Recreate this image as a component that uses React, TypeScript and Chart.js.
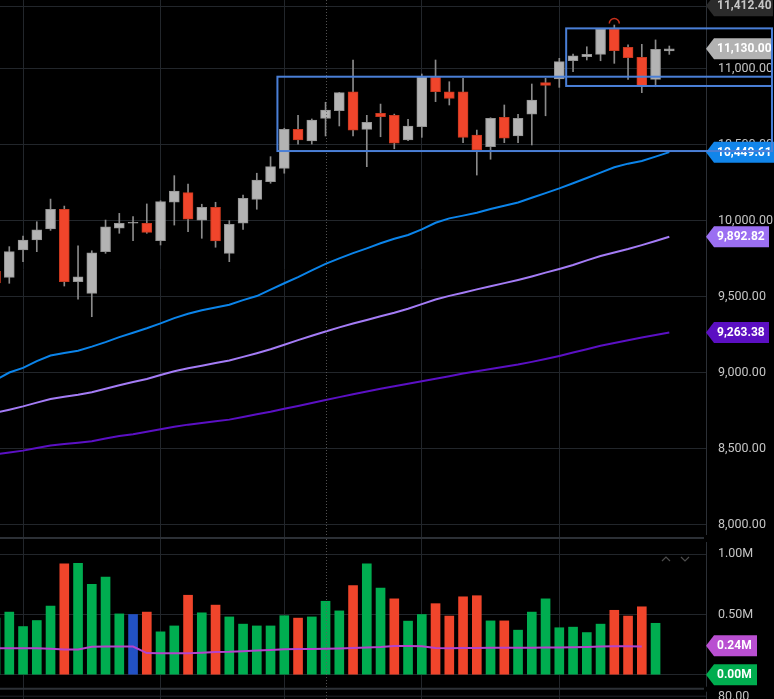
import React, { useEffect, useRef } from 'react';
import { Chart, registerables } from 'chart.js';

Chart.register(...registerables);

// ---------------- data ----------------
// trading-day positions (-1 is the partially visible bar at the left edge)
const dayIndex: number[] = Array.from({ length: 50 }, (_, k) => k - 1);

const opens = [9665, 9626, 9806, 9872, 9944, 10074, 9597, 9521, 9795, 9949, 9982, 9982, 9867, 10120, 10183, 10003, 10087, 9784, 9982, 10139, 10255, 10343, 10600, 10523, 10672, 10722, 10847, 10600, 10705, 10692, 10530, 10617, 10946, 10847, 10847, 10562, 10486, 10679, 10556, 10699, 10907, 10931, 11051, 11078, 11093, 11260, 11140, 11074, 10929, 11115];
const highs = [9690, 9828, 9898, 9992, 10141, 10095, 9834, 9801, 10003, 10047, 10025, 10109, 10130, 10295, 10240, 10107, 10120, 9999, 10168, 10311, 10420, 10607, 10692, 10668, 10778, 10843, 11056, 10692, 10766, 10700, 10666, 10964, 11056, 10913, 10936, 10595, 10676, 10760, 10699, 10898, 10936, 11067, 11095, 11143, 11264, 11286, 11155, 11159, 11188, 11148];
const lows = [9570, 9587, 9729, 9795, 9935, 9569, 9482, 9367, 9784, 9916, 9867, 9916, 9839, 9970, 9926, 9883, 9824, 9729, 9942, 10074, 10245, 10311, 10503, 10503, 10556, 10622, 10556, 10354, 10551, 10472, 10525, 10547, 10782, 10760, 10512, 10299, 10403, 10512, 10512, 10497, 10689, 10876, 10979, 11056, 11051, 11034, 10929, 10841, 10880, 11093];
const closes = [9590, 9795, 9872, 9938, 10074, 9597, 9630, 9788, 9959, 9982, 9982, 9922, 10124, 10194, 10008, 10087, 9865, 9975, 10146, 10266, 10354, 10600, 10530, 10661, 10727, 10841, 10595, 10646, 10683, 10508, 10622, 10946, 10847, 10804, 10547, 10464, 10672, 10541, 10672, 10793, 10889, 11045, 11084, 11093, 11260, 11117, 11071, 10880, 11126, 11130];

// volume in millions
const volumesM: (number | null)[] = [0.47, 0.52, 0.40, 0.45, 0.57, 0.92, 0.925, 0.75, 0.81, 0.505, 0.50, 0.52, 0.356, 0.405, 0.66, 0.514, 0.578, 0.48, 0.42, 0.405, 0.405, 0.49, 0.47, 0.48, 0.61, 0.53, 0.74, 0.92, 0.72, 0.63, 0.445, 0.50, 0.59, 0.487, 0.647, 0.656, 0.447, 0.447, 0.37, 0.52, 0.63, 0.39, 0.395, 0.35, 0.42, 0.535, 0.487, 0.564, 0.427, null];
const volumeAvgM: (number | null)[] = [0.22, 0.22, 0.22, 0.22, 0.215, 0.21, 0.21, 0.232, 0.234, 0.234, 0.234, 0.18, 0.178, 0.178, 0.178, 0.183, 0.188, 0.19, 0.195, 0.2, 0.205, 0.212, 0.214, 0.214, 0.215, 0.218, 0.222, 0.225, 0.23, 0.238, 0.238, 0.236, 0.222, 0.22, 0.222, 0.222, 0.223, 0.223, 0.223, 0.224, 0.225, 0.226, 0.228, 0.23, 0.234, 0.236, 0.236, 0.234, null, null];

// moving averages
const maFast = [8950, 9000, 9030, 9075, 9112, 9128, 9143, 9170, 9200, 9233, 9262, 9291, 9323, 9358, 9387, 9410, 9428, 9446, 9476, 9503, 9545, 9587, 9628, 9672, 9715, 9751, 9785, 9817, 9850, 9880, 9905, 9942, 9985, 10014, 10032, 10051, 10076, 10097, 10118, 10150, 10180, 10211, 10245, 10280, 10315, 10350, 10374, 10392, 10420, 10449.61];
const maMid = [8735, 8755, 8777, 8802, 8826, 8840, 8853, 8870, 8893, 8916, 8937, 8957, 8983, 9008, 9028, 9044, 9062, 9079, 9103, 9127, 9153, 9183, 9213, 9242, 9270, 9297, 9322, 9346, 9370, 9393, 9419, 9450, 9480, 9504, 9525, 9547, 9567, 9588, 9609, 9632, 9657, 9681, 9707, 9738, 9766, 9790, 9812, 9838, 9865, 9892.82];
const maSlow = [8462, 8474, 8486, 8503, 8520, 8530, 8538, 8548, 8566, 8582, 8594, 8610, 8627, 8643, 8657, 8668, 8679, 8690, 8707, 8725, 8742, 8762, 8780, 8800, 8819, 8838, 8857, 8875, 8893, 8910, 8926, 8942, 8959, 8976, 8993, 9008, 9023, 9038, 9052, 9070, 9089, 9109, 9131, 9153, 9176, 9194, 9212, 9230, 9247, 9263.38];

const priceTicks = [8000, 8500, 9000, 9500, 10000, 10500, 11000];
const volumeTicks = [0, 0.5, 1];
const periodStarts = [1, 11, 20, 30, 40];
const markerDay = 23;
const sessionHigh = 11412.4;
const volumeTag = 0.24;
const lowerPanelLabel = '80.00';
const zoneStart = [19.5, 40.5];
const zoneTop = [10946, 11264];
const zoneBottom = [10457, 10885];
const pivotDay = 44;

// ---------------- layout / style ----------------
const W = 774;
const MAIN_H = 539;
const VOL_H = 160;
const AXIS_W = 68;
const X_MIN = -0.676;
const X_MAX = 50.669;
const Y_MIN = 7904.6;
const Y_MAX = 11450.7;
const V_MIN = -0.2018;
const V_MAX = 1.1271;

const C = {
  bg: '#000000',
  grid: '#22262b',
  axis: '#2c3036',
  label: '#c4c4c4',
  up: '#b3b3b3',
  upBorder: '#949494',
  down: '#f0452b',
  downBorder: '#c8391f',
  wick: '#8a8a8a',
  volUp: '#00ad50',
  volDown: '#f0452b',
  volFlat: '#2251c4',
  volAvg: '#b443cc',
  maFast: '#0b84ea',
  maMid: '#a47cf6',
  maSlow: '#5b10c4',
  zone: '#4a7fd6',
  pivot: '#c9301c',
};
const FONT = 'Roboto';

const fmtPrice = (v: number) =>
  v.toLocaleString('en-US', { minimumFractionDigits: 2, maximumFractionDigits: 2 });

function drawTag(ctx: CanvasRenderingContext2D, left: number, right: number, y: number, text: string, bg: string, fg: string) {
  const h = 21;
  const tip = 8;
  ctx.save();
  ctx.beginPath();
  ctx.moveTo(left, y);
  ctx.lineTo(left + tip, y - h / 2);
  ctx.lineTo(right, y - h / 2);
  ctx.lineTo(right, y + h / 2);
  ctx.lineTo(left + tip, y + h / 2);
  ctx.closePath();
  ctx.fillStyle = bg;
  ctx.fill();
  ctx.fillStyle = fg;
  ctx.font = `bold 12px ${FONT}`;
  ctx.textAlign = 'left';
  ctx.textBaseline = 'middle';
  ctx.fillText(text, left + 11, y + 0.5);
  ctx.restore();
}

function drawMarker(chart: any) {
  const { ctx, chartArea, scales } = chart;
  const x = Math.round(scales.x.getPixelForValue(markerDay)) + 0.5;
  ctx.save();
  ctx.strokeStyle = 'rgba(95,95,95,0.85)';
  ctx.lineWidth = 1;
  ctx.setLineDash([1, 2]);
  ctx.beginPath();
  ctx.moveTo(x, chartArea.top);
  ctx.lineTo(x, chartArea.bottom);
  ctx.stroke();
  ctx.restore();
}

const mainOverlay = {
  id: 'mainOverlay',
  beforeDatasetsDraw(chart: any) {
    const { ctx, chartArea, scales } = chart;
    const y = Math.round(scales.y.getPixelForValue(sessionHigh)) + 0.5;
    ctx.save();
    ctx.strokeStyle = C.grid;
    ctx.lineWidth = 1;
    ctx.beginPath();
    ctx.moveTo(chartArea.left, y);
    ctx.lineTo(chartArea.right, y);
    ctx.stroke();
    ctx.restore();
  },
  afterDatasetsDraw(chart: any) {
    const { ctx, scales } = chart;
    drawMarker(chart);
    const k = dayIndex.indexOf(pivotDay);
    const cx = scales.x.getPixelForValue(pivotDay);
    const cy = scales.y.getPixelForValue(highs[k]) - 1.5;
    ctx.save();
    ctx.strokeStyle = C.pivot;
    ctx.lineWidth = 1.5;
    ctx.beginPath();
    ctx.arc(cx, cy, 5, Math.PI, 2 * Math.PI);
    ctx.stroke();
    ctx.restore();
  },
  afterDraw(chart: any) {
    const { ctx, chartArea, scales, width } = chart;
    const left = chartArea.right;
    // panel separator
    ctx.save();
    ctx.fillStyle = C.bg;
    ctx.fillRect(left - 2, chartArea.bottom - 4, 4, 4);
    ctx.strokeStyle = C.axis;
    ctx.lineWidth = 2;
    ctx.beginPath();
    ctx.moveTo(chartArea.left, chartArea.bottom - 1);
    ctx.lineTo(left - 2, chartArea.bottom - 1);
    ctx.stroke();
    ctx.restore();

    const last = closes.length - 1;
    drawTag(ctx, left, 773, scales.y.getPixelForValue(sessionHigh), fmtPrice(sessionHigh), '#2b2b2b', '#c6c6c6');
    drawTag(ctx, left, 772, scales.y.getPixelForValue(closes[last]), fmtPrice(closes[last]), '#b2b2b2', '#ffffff');
    drawTag(ctx, left, 774, scales.y.getPixelForValue(maFast[last]), fmtPrice(maFast[last]), '#1185ea', '#ffffff');
    drawTag(ctx, left, 769, scales.y.getPixelForValue(maMid[last]), fmtPrice(maMid[last]), '#9b6ff2', '#ffffff');
    drawTag(ctx, left, 769, scales.y.getPixelForValue(maSlow[last]), fmtPrice(maSlow[last]), '#5b0fc2', '#ffffff');

    // consolidation zones
    ctx.save();
    ctx.strokeStyle = C.zone;
    ctx.lineWidth = 2;
    zoneStart.forEach((s, i) => {
      const x0 = scales.x.getPixelForValue(s);
      const y0 = scales.y.getPixelForValue(zoneTop[i]);
      const y1 = scales.y.getPixelForValue(zoneBottom[i]);
      ctx.strokeRect(x0, y0, width - 2 - x0, y1 - y0);
    });
    ctx.restore();
  },
};

const volOverlay = {
  id: 'volOverlay',
  afterDatasetsDraw(chart: any) {
    drawMarker(chart);
  },
  afterDraw(chart: any) {
    const { ctx, chartArea, scales } = chart;
    const left = chartArea.right;
    const zeroY = scales.y.getPixelForValue(0);
    ctx.save();
    // gap in axis line at top
    ctx.fillStyle = C.bg;
    ctx.fillRect(left - 2, 0, 4, 3);
    // lower panel separator + its grid line and label
    const sepY = zeroY + 14;
    ctx.fillRect(left - 2, sepY - 2, 4, 5);
    ctx.strokeStyle = C.axis;
    ctx.lineWidth = 2;
    ctx.beginPath();
    ctx.moveTo(chartArea.left, sepY);
    ctx.lineTo(left - 2, sepY);
    ctx.stroke();
    ctx.strokeStyle = C.grid;
    ctx.lineWidth = 1;
    ctx.beginPath();
    ctx.moveTo(chartArea.left, sepY + 7.5);
    ctx.lineTo(left, sepY + 7.5);
    ctx.stroke();
    ctx.fillStyle = C.label;
    ctx.font = `12.5px ${FONT}`;
    ctx.textAlign = 'left';
    ctx.textBaseline = 'middle';
    ctx.fillText(lowerPanelLabel, left + 12, sepY + 8);
    // pane chevrons
    ctx.strokeStyle = '#4d4d4d';
    ctx.lineWidth = 1.2;
    const cy = 20;
    ctx.beginPath();
    ctx.moveTo(left - 44, cy + 2);
    ctx.lineTo(left - 40, cy - 2);
    ctx.lineTo(left - 36, cy + 2);
    ctx.moveTo(left - 25, cy - 2);
    ctx.lineTo(left - 21, cy + 2);
    ctx.lineTo(left - 17, cy - 2);
    ctx.stroke();
    ctx.restore();

    drawTag(ctx, left, 757, scales.y.getPixelForValue(volumeTag), volumeTag.toFixed(2) + 'M', '#b94fd1', '#ffffff');
    drawTag(ctx, left, 757, zeroY, '0.00M', '#00ad4f', '#ffffff');
  },
};

function xScale() {
  return {
    type: 'linear',
    min: X_MIN,
    max: X_MAX,
    bounds: 'data',
    offset: false,
    grid: { color: C.grid, offset: false, drawTicks: false },
    border: { display: false },
    ticks: { display: false },
    afterBuildTicks: (a: any) => {
      a.ticks = periodStarts.map((v) => ({ value: v }));
    },
    afterFit: (a: any) => {
      a.height = 0;
      a.paddingLeft = 0;
      a.paddingRight = 0;
    },
  };
}

function yScale(min: number, max: number, ticks: number[], fmt: (v: number) => string) {
  return {
    type: 'linear',
    position: 'right',
    min,
    max,
    bounds: 'data',
    grid: { color: C.grid, drawTicks: false },
    border: { display: true, color: C.axis, width: 1 },
    ticks: {
      color: C.label,
      font: { family: FONT, size: 12.5 },
      padding: 12,
      autoSkip: false,
      callback: (v: any) => fmt(Number(v)),
    },
    afterBuildTicks: (a: any) => {
      a.ticks = ticks.map((v) => ({ value: v }));
    },
    afterFit: (a: any) => {
      a.width = AXIS_W;
      a.paddingTop = 0;
      a.paddingBottom = 0;
    },
  };
}

export default function App() {
  const mainRef = useRef<HTMLCanvasElement | null>(null);
  const volRef = useRef<HTMLCanvasElement | null>(null);

  useEffect(() => {
    document.body.style.margin = '0';
    document.body.style.background = C.bg;
    if (!mainRef.current || !volRef.current) return;

    const bodyFill = closes.map((c, k) => (c >= opens[k] ? C.up : C.down));
    const bodyBorder = closes.map((c, k) => (c >= opens[k] ? C.upBorder : C.downBorder));
    const volColors = closes.map((c, k) => {
      if (k === 0) return C.volUp;
      if (c > closes[k - 1]) return C.volUp;
      if (c < closes[k - 1]) return C.volDown;
      return C.volFlat;
    });

    const common = {
      responsive: false,
      animation: false,
      events: [],
      layout: { padding: 0 },
      plugins: { legend: { display: false }, tooltip: { enabled: false } },
    };

    const main = new Chart(mainRef.current, {
      type: 'bar',
      data: {
        datasets: [
          {
            type: 'line',
            data: dayIndex.map((x, k) => ({ x, y: maSlow[k] })),
            borderColor: C.maSlow,
            borderWidth: 2,
            pointRadius: 0,
            order: 5,
          },
          {
            type: 'line',
            data: dayIndex.map((x, k) => ({ x, y: maMid[k] })),
            borderColor: C.maMid,
            borderWidth: 2,
            pointRadius: 0,
            order: 4,
          },
          {
            type: 'line',
            data: dayIndex.map((x, k) => ({ x, y: maFast[k] })),
            borderColor: C.maFast,
            borderWidth: 2,
            pointRadius: 0,
            order: 3,
          },
          {
            type: 'bar',
            data: dayIndex.map((x, k) => ({ x, y: [lows[k], highs[k]] })),
            backgroundColor: C.wick,
            grouped: false,
            barThickness: 1,
            maxBarThickness: 1,
            order: 2,
          },
          {
            type: 'bar',
            data: dayIndex.map((x, k) => ({ x, y: [opens[k], closes[k]] })),
            backgroundColor: bodyFill,
            borderColor: bodyBorder,
            borderWidth: 1,
            borderSkipped: false,
            grouped: false,
            barThickness: 10,
            maxBarThickness: 10,
            minBarLength: 1,
            order: 1,
          },
        ],
      } as any,
      options: {
        ...common,
        scales: {
          x: xScale(),
          y: yScale(Y_MIN, Y_MAX, priceTicks, fmtPrice),
        },
      } as any,
      plugins: [mainOverlay as any],
    });

    const vol = new Chart(volRef.current, {
      type: 'bar',
      data: {
        datasets: [
          {
            type: 'line',
            data: dayIndex.map((x, k) => ({ x, y: volumeAvgM[k] })),
            borderColor: C.volAvg,
            borderWidth: 2,
            pointRadius: 0,
            spanGaps: false,
            order: 1,
          },
          {
            type: 'bar',
            data: dayIndex.map((x, k) => ({ x, y: volumesM[k] })),
            backgroundColor: volColors,
            grouped: false,
            barThickness: 9,
            maxBarThickness: 9,
            order: 2,
          },
        ],
      } as any,
      options: {
        ...common,
        scales: {
          x: xScale(),
          y: yScale(V_MIN, V_MAX, volumeTicks, (v) => v.toFixed(2) + 'M'),
        },
      } as any,
      plugins: [volOverlay as any],
    });

    return () => {
      main.destroy();
      vol.destroy();
    };
  }, []);

  return (
    <div style={{ position: 'absolute', left: 0, top: 0, width: W, height: MAIN_H + VOL_H, background: C.bg, overflow: 'hidden' }}>
      <canvas ref={mainRef} width={W} height={MAIN_H} style={{ display: 'block', width: W, height: MAIN_H }} />
      <canvas ref={volRef} width={W} height={VOL_H} style={{ display: 'block', width: W, height: VOL_H }} />
    </div>
  );
}
